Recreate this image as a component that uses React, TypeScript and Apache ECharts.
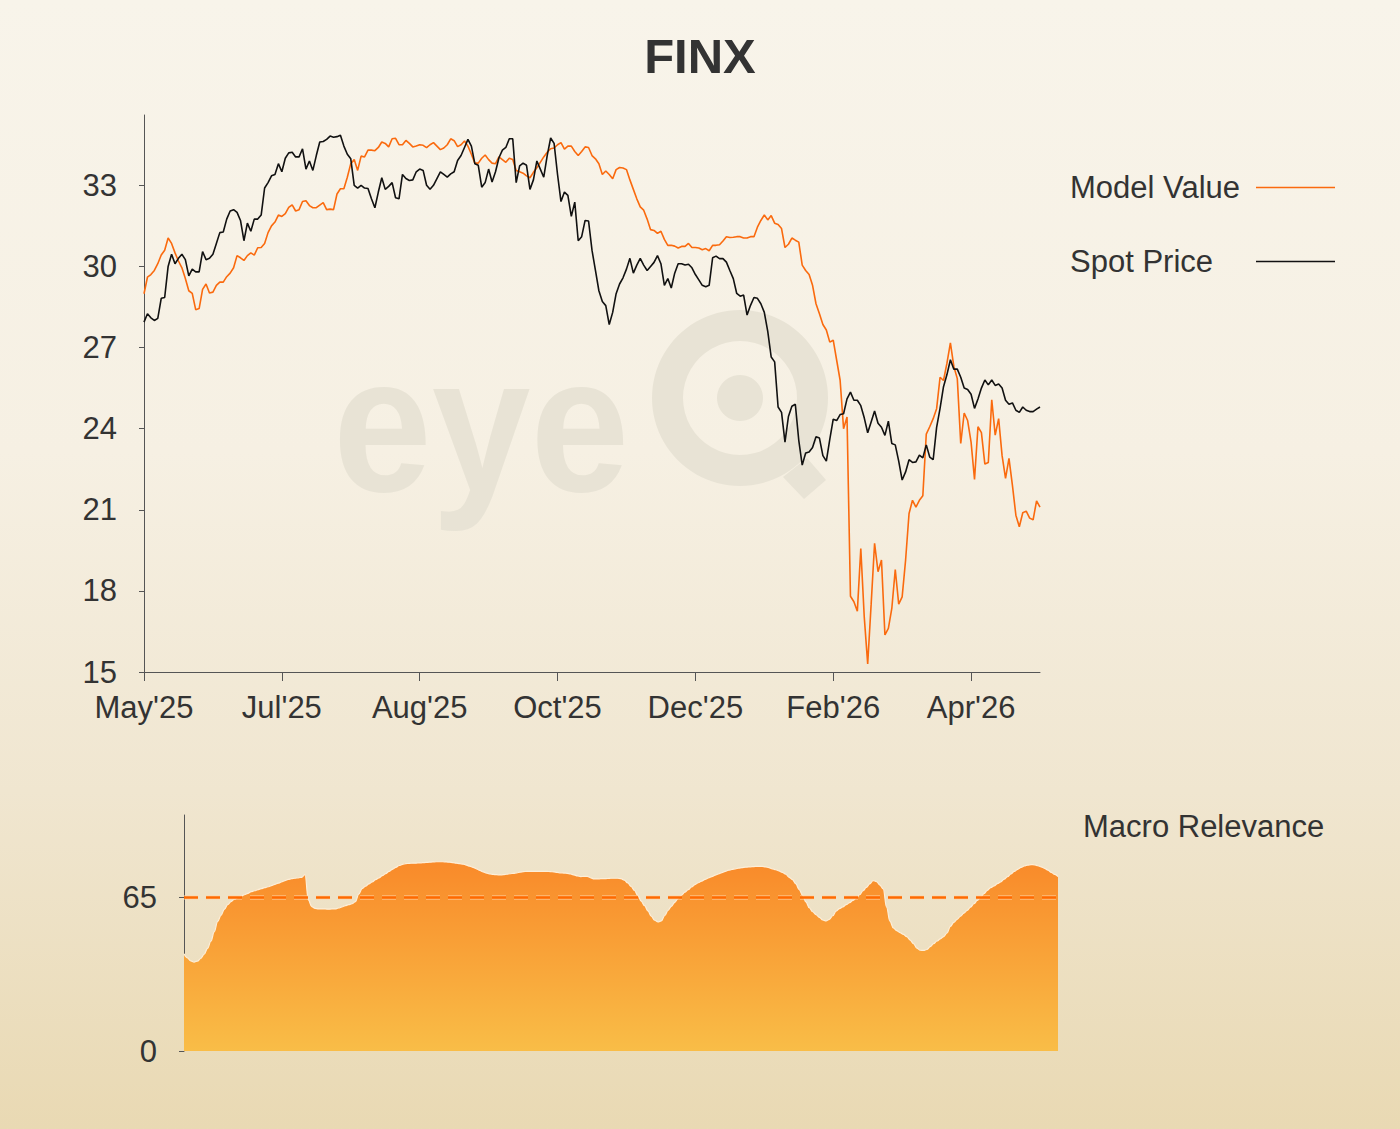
import React, { useEffect, useRef } from "react";
import * as echarts from "echarts";

const FONT = "'Liberation Sans', Arial, Helvetica, sans-serif";

const tickLabels = ["May'25", "Jul'25", "Aug'25", "Oct'25", "Dec'25", "Feb'26", "Apr'26"];
const LABEL_STEP = 40;
const priceTicks = [15, 18, 21, 24, 27, 30, 33];
const relevanceTicks = [0, 65];

const modelValue = [
  28.99, 29.6, 29.7, 29.85, 30.1, 30.42, 30.6, 31.05, 30.85, 30.5,
  30.2, 29.95, 29.55, 29.1, 29.0, 28.4, 28.44, 29.15, 29.35, 29.02,
  29.05, 29.3, 29.42, 29.42, 29.62, 29.75, 29.95, 30.4, 30.32, 30.22,
  30.4, 30.5, 30.42, 30.69, 30.7, 30.85, 31.25, 31.5, 31.64, 31.9,
  31.85, 31.95, 32.18, 32.28, 32.05, 32.1, 32.4, 32.43, 32.25, 32.17,
  32.17, 32.27, 32.36, 32.1, 32.12, 32.1, 32.68, 32.87, 32.87, 33.3,
  33.8, 33.95, 33.55, 34.08, 34.05, 34.3, 34.3, 34.28, 34.4, 34.6,
  34.55, 34.42, 34.72, 34.74, 34.5, 34.5, 34.66, 34.55, 34.42, 34.45,
  34.5, 34.48, 34.39, 34.5, 34.58, 34.45, 34.32, 34.38, 34.5, 34.72,
  34.65, 34.43, 34.5, 34.64, 34.45, 34.15, 33.82, 33.82, 34.0, 34.12,
  33.95, 33.82, 33.8, 34.05, 33.95, 33.85, 34.0, 33.95, 33.55, 33.5,
  33.45, 33.35, 33.28, 33.48, 33.65, 33.85, 34.05, 34.22, 34.35, 34.38,
  34.5, 34.58, 34.34, 34.45, 34.45, 34.25, 34.1, 34.25, 34.42, 34.4,
  34.1, 33.98, 33.8, 33.4, 33.53, 33.4, 33.24, 33.58, 33.66, 33.64,
  33.58, 33.2, 32.85, 32.5, 32.2, 32.08, 31.75, 31.36, 31.33, 31.22,
  31.3, 31.0, 30.78, 30.78, 30.75, 30.68, 30.74, 30.74, 30.85, 30.7,
  30.7, 30.68, 30.62, 30.66, 30.58, 30.78, 30.78, 30.8, 30.94, 31.1,
  31.07, 31.08, 31.1, 31.1, 31.05, 31.05, 31.1, 31.1, 31.45, 31.7,
  31.9, 31.72, 31.88, 31.6, 31.55, 31.4, 30.7, 30.82, 31.05, 30.97,
  30.9, 30.05, 29.85, 29.7, 29.3, 28.62, 28.25, 27.85, 27.65, 27.2,
  27.27, 26.53, 25.79, 24.0, 24.43, 17.8, 17.6, 17.25, 19.57, 17.04,
  15.3, 17.5, 19.76, 18.71, 19.14, 16.37, 16.61, 17.35, 18.79, 17.51,
  17.78, 19.14, 20.86, 21.35, 21.1, 21.35, 21.52, 23.8, 24.07, 24.37,
  24.74, 25.9, 25.78, 26.42, 27.17, 26.3, 25.85, 23.45, 24.58, 24.3,
  23.5, 22.12, 24.07, 23.85, 22.69, 22.75, 25.07, 23.76, 24.37, 23.0,
  22.16, 22.9, 21.9, 20.8, 20.37, 20.89, 20.95, 20.69, 20.63, 21.33,
  21.1,
];

const spotPrice = [
  27.94, 28.25, 28.1, 28.0, 28.08, 28.82, 28.85, 30.0, 30.45, 30.1,
  30.3, 30.45, 30.25, 29.65, 29.9, 29.8, 29.8, 30.55, 30.25, 30.3,
  30.45, 30.85, 31.25, 31.27, 31.75, 32.05, 32.1, 32.0, 31.7, 30.95,
  31.6, 31.3, 31.75, 31.75, 31.9, 32.9, 33.1, 33.35, 33.4, 33.8,
  33.5, 34.0, 34.2, 34.22, 34.05, 34.05, 34.35, 33.6, 33.9, 33.55,
  34.1, 34.6, 34.62, 34.7, 34.82, 34.78, 34.8, 34.85, 34.45, 34.15,
  33.98, 33.0, 32.9, 33.0, 32.9, 32.88, 32.5, 32.17, 32.75, 33.28,
  32.85, 32.96, 33.1, 32.54, 32.5, 33.4, 33.25, 33.18, 33.2, 33.5,
  33.6, 33.55, 33.0, 32.85, 33.0, 33.25, 33.5, 33.4, 33.3, 33.42,
  33.5, 33.92, 34.1, 34.4, 34.7, 34.45, 33.8, 33.74, 32.93, 33.1,
  33.6, 33.12, 33.5, 34.02, 34.3, 34.4, 34.72, 34.72, 33.1, 33.72,
  33.82, 33.74, 32.85, 33.2, 33.9, 33.6, 33.3, 34.1, 34.75, 34.55,
  33.4, 32.4, 32.75, 32.63, 31.85, 32.38, 30.95, 31.1, 31.7, 31.68,
  30.6, 29.85, 29.1, 28.7, 28.55, 27.85, 28.3, 28.99, 29.35, 29.58,
  29.9, 30.3, 29.75, 30.05, 30.3, 30.05, 29.85, 30.0, 30.15, 30.4,
  30.1, 29.3, 29.55, 29.2, 29.75, 30.1, 30.1, 30.05, 30.08, 29.95,
  29.7, 29.5, 29.3, 29.25, 29.3, 30.32, 30.38, 30.29, 30.29, 30.16,
  29.85, 29.55, 29.0, 28.9, 28.94, 28.2, 28.56, 28.85, 28.82, 28.62,
  28.3, 27.6, 26.65, 26.47, 24.8, 24.6, 23.5, 24.45, 24.83, 24.9,
  23.57, 22.65, 23.1, 23.14, 23.3, 23.7, 23.65, 23.0, 22.8, 23.6,
  24.35, 24.3, 24.52, 24.55, 25.1, 25.35, 25.05, 25.05, 24.85, 24.4,
  23.85, 24.25, 24.65, 24.2, 24.05, 23.75, 24.28, 23.45, 23.4, 22.8,
  22.1, 22.4, 22.85, 22.75, 22.77, 23.02, 22.92, 23.4, 22.95, 22.85,
  24.05, 24.75, 25.55, 26.0, 26.55, 26.2, 26.2, 25.9, 25.5, 25.45,
  25.27, 24.75, 25.1, 25.5, 25.8, 25.62, 25.8, 25.6, 25.65, 25.5,
  25.05, 24.9, 24.95, 24.68, 24.6, 24.8, 24.68, 24.63, 24.63, 24.72,
  24.8,
];

const macroRelevance = [
  41.2, 39.5, 38.2, 37.7, 38.1, 39.2, 41.0, 43.5, 46.5, 50.5,
  54.8, 57.5, 60.0, 62.0, 63.3, 64.3, 65.0, 65.7, 66.2, 66.8,
  67.5, 67.9, 68.4, 68.8, 69.2, 69.6, 70.1, 70.6, 71.1, 71.6,
  72.2, 72.7, 73.0, 73.2, 73.4, 73.6, 74.7, 64.0, 61.2, 60.4,
  60.2, 60.2, 60.2, 60.1, 60.2, 60.2, 60.6, 61.1, 61.6, 62.0,
  62.4, 63.3, 66.5, 68.8, 69.8, 70.8, 71.7, 72.6, 73.4, 74.3,
  75.2, 76.1, 77.0, 77.8, 78.6, 79.1, 79.4, 79.5, 79.6, 79.6,
  79.7, 79.8, 79.9, 80.0, 80.1, 80.2, 80.2, 80.2, 80.1, 80.0,
  79.8, 79.6, 79.4, 79.2, 78.8, 78.3, 77.8, 77.2, 76.5, 75.9,
  75.4, 75.0, 74.8, 74.7, 74.6, 74.7, 74.9, 75.1, 75.3, 75.5,
  75.8, 76.0, 76.1, 76.1, 76.1, 76.1, 76.1, 76.1, 76.1, 76.0,
  75.9, 75.7, 75.5, 75.4, 75.3, 75.0, 74.6, 74.2, 73.9, 74.0,
  74.0, 73.4, 72.9, 72.9, 73.0, 73.0, 73.1, 73.2, 73.2, 73.2,
  73.0, 72.4, 71.2, 69.7, 68.0, 65.9, 63.5, 61.6, 59.4, 57.1,
  55.4, 54.7, 55.1, 57.4, 59.6, 61.3, 63.0, 64.7, 66.0, 67.3,
  68.4, 69.5, 70.5, 71.3, 72.0, 72.7, 73.3, 73.9, 74.5, 75.0,
  75.6, 76.1, 76.6, 76.9, 77.2, 77.5, 77.7, 77.9, 78.0, 78.1,
  78.2, 78.2, 78.2, 78.0, 77.7, 77.2, 76.8, 76.3, 75.7, 74.9,
  73.6, 72.6, 70.8, 68.4, 66.0, 63.2, 60.7, 59.0, 57.8, 56.6,
  55.5, 55.1, 55.8, 57.3, 59.3, 60.3, 61.1, 62.0, 62.9, 63.8,
  64.9, 66.2, 67.9, 69.3, 70.8, 72.2, 71.8, 70.3, 68.7, 61.0,
  55.0, 52.2, 51.0, 50.2, 49.4, 48.5, 47.0, 45.5, 43.6, 42.7,
  42.6, 43.0, 44.2, 45.5, 46.6, 47.5, 48.5, 50.0, 52.8, 54.5,
  55.8, 57.1, 58.4, 59.6, 61.0, 62.4, 63.8, 65.2, 66.7, 68.1,
  69.2, 70.0, 70.9, 71.7, 72.8, 73.9, 75.0, 76.1, 77.0, 77.8,
  78.4, 78.8, 79.0, 78.9, 78.5, 78.0, 77.4, 76.6, 75.7, 74.8,
  73.9,
];

const relevanceThreshold = 65;

const categories = spotPrice.map((_, i) => String(i));

const AXIS_COLOR = "#555555";
const TEXT_COLOR = "#333333";
const WM = "#e8e3d5";
const FS = 31;

export default function App() {
  const ref = useRef<HTMLDivElement>(null);

  useEffect(() => {
    if (!ref.current) return;
    const chart = echarts.init(ref.current, null, { renderer: "svg" });
    const isLabelIdx = (i: number) => i % LABEL_STEP === 0;

    const option: any = {
      animation: false,
      backgroundColor: "transparent",
      title: {
        text: "FINX",
        left: "center",
        top: 26,
        textStyle: { fontSize: 49, fontWeight: "bold", color: "#333333", fontFamily: FONT },
      },
      graphic: [
        {
          type: "text",
          x: 333,
          y: 424,
          scaleX: 0.92,
          z: 0,
          silent: true,
          style: {
            text: "eye",
            fontSize: 193,
            fontWeight: "bold",
            fontFamily: FONT,
            fill: WM,
            verticalAlign: "middle",
          },
        },
        { type: "ring", z: 0, silent: true, shape: { cx: 740, cy: 398, r: 88, r0: 57 }, style: { fill: WM } },
        { type: "circle", z: 0, silent: true, shape: { cx: 740, cy: 398, r: 23 }, style: { fill: WM } },
        {
          type: "polygon",
          z: 0,
          silent: true,
          shape: { points: [[783, 477], [804, 499], [826, 480], [807, 458]] },
          style: { fill: WM },
        },
      ],
      legend: [
        {
          data: ["Model Value", "Spot Price"],
          orient: "vertical",
          left: 1065,
          top: 167,
          align: "right",
          icon: "rect",
          itemWidth: 79,
          itemHeight: 1.5,
          itemGap: 43,
          selectedMode: false,
          formatter: (name: string) => `{a|${name}}`,
          textStyle: {
            fontSize: FS,
            color: TEXT_COLOR,
            fontFamily: FONT,
            rich: {
              a: { width: 181, align: "left", fontSize: FS, lineHeight: 36, color: TEXT_COLOR, fontFamily: FONT },
            },
          },
        },
        {
          data: ["Macro Relevance"],
          orient: "vertical",
          left: 1073,
          top: 803,
          align: "left",
          icon: "rect",
          itemWidth: 0,
          itemHeight: 0,
          selectedMode: false,
          textStyle: { fontSize: FS, lineHeight: 36, color: TEXT_COLOR, fontFamily: FONT },
        },
      ],
      grid: [
        { left: 144, right: 360, top: 115, bottom: 457 },
        { left: 184, right: 342, top: 815, bottom: 78 },
      ],
      xAxis: [
        {
          type: "category",
          gridIndex: 0,
          data: categories,
          boundaryGap: false,
          axisLine: { show: true, lineStyle: { color: AXIS_COLOR, width: 1 } },
          axisTick: { show: true, interval: isLabelIdx, length: 9, lineStyle: { color: AXIS_COLOR } },
          axisLabel: {
            interval: isLabelIdx,
            formatter: (_v: string, i: number) => tickLabels[i / LABEL_STEP] ?? "",
            fontSize: FS,
            color: TEXT_COLOR,
            fontFamily: FONT,
            margin: 20,
          },
          splitLine: { show: false },
        },
        {
          type: "category",
          gridIndex: 1,
          data: categories,
          boundaryGap: false,
          axisLine: { show: false },
          axisTick: { show: false },
          axisLabel: { show: false },
          splitLine: { show: false },
        },
      ],
      yAxis: [
        {
          type: "value",
          gridIndex: 0,
          min: 15,
          max: 35.6,
          interval: 3,
          axisLine: { show: true, lineStyle: { color: AXIS_COLOR, width: 1 } },
          axisTick: { show: true, length: 5, customValues: priceTicks, lineStyle: { color: AXIS_COLOR } },
          axisLabel: { fontSize: FS, color: TEXT_COLOR, fontFamily: FONT, margin: 27, customValues: priceTicks },
          splitLine: { show: false },
        },
        {
          type: "value",
          gridIndex: 1,
          min: 0,
          max: 100,
          interval: 65,
          axisLine: { show: true, lineStyle: { color: AXIS_COLOR, width: 1 } },
          axisTick: { show: true, length: 5, customValues: relevanceTicks, lineStyle: { color: AXIS_COLOR } },
          axisLabel: { fontSize: FS, color: TEXT_COLOR, fontFamily: FONT, margin: 27, customValues: relevanceTicks },
          splitLine: { show: false },
        },
      ],
      series: [
        {
          name: "Model Value",
          type: "line",
          xAxisIndex: 0,
          yAxisIndex: 0,
          data: modelValue,
          symbol: "none",
          showSymbol: false,
          z: 3,
          lineStyle: { color: "#fa6a0e", width: 1.6 },
          itemStyle: { color: "#fa6a0e" },
        },
        {
          name: "Spot Price",
          type: "line",
          xAxisIndex: 0,
          yAxisIndex: 0,
          data: spotPrice,
          symbol: "none",
          showSymbol: false,
          z: 4,
          lineStyle: { color: "#111111", width: 1.6 },
          itemStyle: { color: "#111111" },
        },
        {
          name: "Macro Relevance",
          type: "line",
          xAxisIndex: 1,
          yAxisIndex: 1,
          data: macroRelevance,
          symbol: "none",
          showSymbol: false,
          smooth: 0.4,
          smoothMonotone: "x",
          z: 3,
          lineStyle: { color: "#fdeed8", width: 1.2 },
          itemStyle: { color: "#f99a35" },
          areaStyle: {
            opacity: 1,
            color: new echarts.graphic.LinearGradient(0, 0, 0, 1, [
              { offset: 0, color: "#f98a2a" },
              { offset: 1, color: "#f9bd47" },
            ]),
          },
          markLine: {
            silent: true,
            symbol: ["none", "none"],
            label: { show: false },
            z: 10,
            data: [
              {
                yAxis: relevanceThreshold,
                lineStyle: { color: "rgba(255,214,170,0.5)", width: 5, type: [14, 8] },
              },
              {
                yAxis: relevanceThreshold,
                lineStyle: { color: "#ff6a00", width: 2.5, type: [14, 8] },
              },
            ],
          },
        },
      ],
    };

    chart.setOption(option);
    return () => chart.dispose();
  }, []);

  return (
    <div
      ref={ref}
      style={{
        position: "fixed",
        left: 0,
        top: 0,
        width: 1400,
        height: 1129,
        background:
          "linear-gradient(180deg, #f8f4ea 0%, #f6f0e3 40%, #f0e6d0 70%, #e9d9b3 100%)",
      }}
    />
  );
}
